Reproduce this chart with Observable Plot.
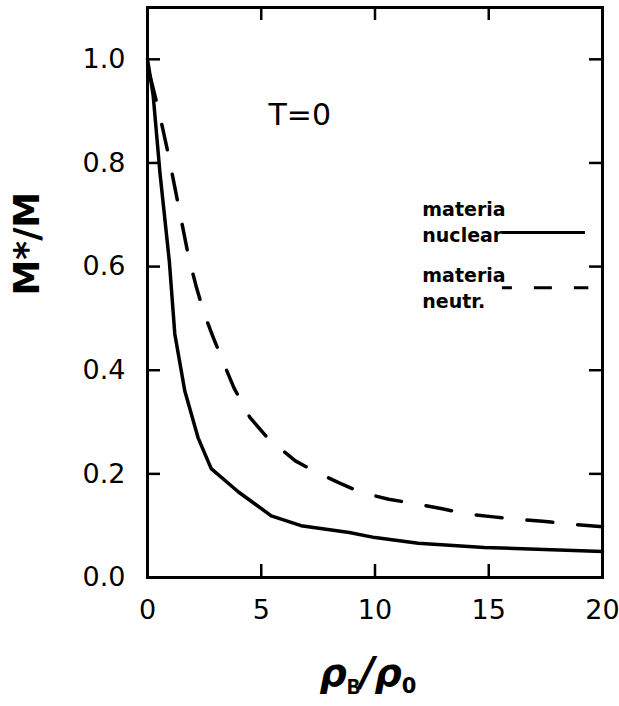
<!DOCTYPE html>
<html>
<head>
<meta charset="utf-8">
<script src="https://cdn.jsdelivr.net/npm/d3@7"></script>
<script src="https://cdn.jsdelivr.net/npm/@observablehq/plot@0.6"></script>
<style>
  html, body { margin: 0; padding: 0; background: #fff; }
</style>
</head>
<body>
<div id="chart"></div>
<script>
// Effective mass ratio M*/M versus baryon density rho_B/rho_0 at T = 0
const nuclearRho  = [0, 0.25, 0.55, 0.96, 1.2, 1.64, 2.22, 2.8, 4.0, 5.44, 6.75, 8.87, 10, 11.9, 14.8, 20];
const nuclearMass = [1.0, 0.93, 0.78, 0.61, 0.47, 0.36, 0.27, 0.21, 0.165, 0.119, 0.1, 0.087, 0.077, 0.066, 0.058, 0.05];

const neutronRho  = [0.1, 0.5, 0.9, 1.35, 1.8, 2.15, 2.5, 2.9, 3.4, 3.8, 4.5, 5.3, 6.5, 7.3, 8.4, 9.4, 10.6, 11.7, 12.9, 14, 15.2, 16.3, 17.5, 18.6, 20];
const neutronMass = [0.97, 0.9, 0.82, 0.72, 0.62, 0.56, 0.508, 0.462, 0.408, 0.366, 0.309, 0.268, 0.225, 0.206, 0.183, 0.164, 0.151, 0.143, 0.133, 0.123, 0.117, 0.112, 0.108, 0.103, 0.098];

const xTicks = [0, 5, 10, 15, 20];
const yTicks = [0, 0.2, 0.4, 0.6, 0.8, 1.0];

const seriesLabels = ["materia\nnuclear", "materia\nneutr."];
const annotation = "T=0";
const xTitle = "ρB/ρ0";
const yTitle = "M*/M";

const nuclear = nuclearRho.map((x, i) => ({x, y: nuclearMass[i]}));
const neutron = neutronRho.map((x, i) => ({x, y: neutronMass[i]}));

const W = 619, H = 706;
const mL = 147, mR = 17, mT = 7, mB = 129;
const innerW = W - mL - mR, innerH = H - mT - mB;
const tickLen = 13;

const chart = Plot.plot({
  width: W,
  height: H,
  marginLeft: mL,
  marginRight: mR,
  marginTop: mT,
  marginBottom: mB,
  style: {fontFamily: "DejaVu Sans", color: "black", background: "white"},
  x: {domain: [0, 20], axis: null},
  y: {domain: [0, 1.1], axis: null},
  marks: [
    // tick labels
    Plot.axisX(xTicks, {tickSize: 0, tickPadding: 22, fontSize: 27, label: null, tickFormat: d3.format("d")}),
    Plot.axisY(yTicks, {tickSize: 0, tickPadding: 22, fontSize: 27, label: null, tickFormat: d3.format(".1f")}),
    // inward ticks on all four sides
    Plot.tickX(xTicks, {x: d => d, insetTop: innerH - tickLen, strokeWidth: 2.5}),
    Plot.tickX(xTicks, {x: d => d, insetBottom: innerH - tickLen, strokeWidth: 2.5}),
    Plot.tickY(yTicks, {y: d => d, insetRight: innerW - tickLen, strokeWidth: 2.5}),
    Plot.tickY(yTicks, {y: d => d, insetLeft: innerW - tickLen, strokeWidth: 2.5}),
    Plot.frame({strokeWidth: 3}),
    // curves
    Plot.line(nuclear, {x: "x", y: "y", strokeWidth: 3.5, strokeLinejoin: "round", strokeLinecap: "round"}),
    Plot.line(neutron, {x: "x", y: "y", strokeWidth: 3.5, strokeDasharray: "26,25", strokeLinecap: "round"}),
    // legend
    Plot.text(seriesLabels.slice(0, 1), {x: 12.08, y: 0.648, text: d => d, textAnchor: "start", lineAnchor: "bottom", lineHeight: 1.37, fontSize: 19, fontWeight: "bold"}),
    Plot.ruleY([0.666], {x1: 15.6, x2: 19.25, strokeWidth: 3}),
    Plot.text(seriesLabels.slice(1, 2), {x: 12.08, y: 0.521, text: d => d, textAnchor: "start", lineAnchor: "bottom", lineHeight: 1.37, fontSize: 19, fontWeight: "bold"}),
    Plot.ruleY([0.559], {x1: 15.6, x2: 19.4, strokeWidth: 3, strokeDasharray: "18,22", strokeDashoffset: 8}),
    // annotation
    Plot.text([annotation], {x: 5.32, y: 0.874, text: d => d, textAnchor: "start", lineAnchor: "bottom", fontSize: 30}),
    // axis titles
    Plot.text([yTitle], {frameAnchor: "left", text: d => d, rotate: -90, dx: -120, dy: 3, fontSize: 36, fontWeight: "bold"}),
    Plot.text([xTitle], {frameAnchor: "bottom", text: d => d, dx: -7, dy: 108, lineAnchor: "bottom", fontSize: 36, fontWeight: "bold", ariaDescription: "x-title"})
  ]
});

document.getElementById("chart").appendChild(chart);

// Typeset the density title with subscripts
const title = d3.select(chart).select('g[aria-description="x-title"] text');
if (!title.empty()) {
  title.text(null);
  const parts = [
    {t: "ρ", size: 38, style: "italic", dy: 0},
    {t: "B", size: 22, family: "Liberation Mono", dy: 8},
    {t: "/", size: 40, style: "italic", dy: -8},
    {t: "ρ", size: 38, style: "italic", dy: 0},
    {t: "0", size: 21, dy: 7}
  ];
  for (const p of parts) {
    const ts = title.append("tspan").text(p.t).attr("font-size", p.size).attr("dy", p.dy).attr("font-weight", "bold");
    if (p.style) ts.attr("font-style", p.style);
    if (p.family) ts.attr("font-family", p.family);
  }
}
</script>
</body>
</html>
